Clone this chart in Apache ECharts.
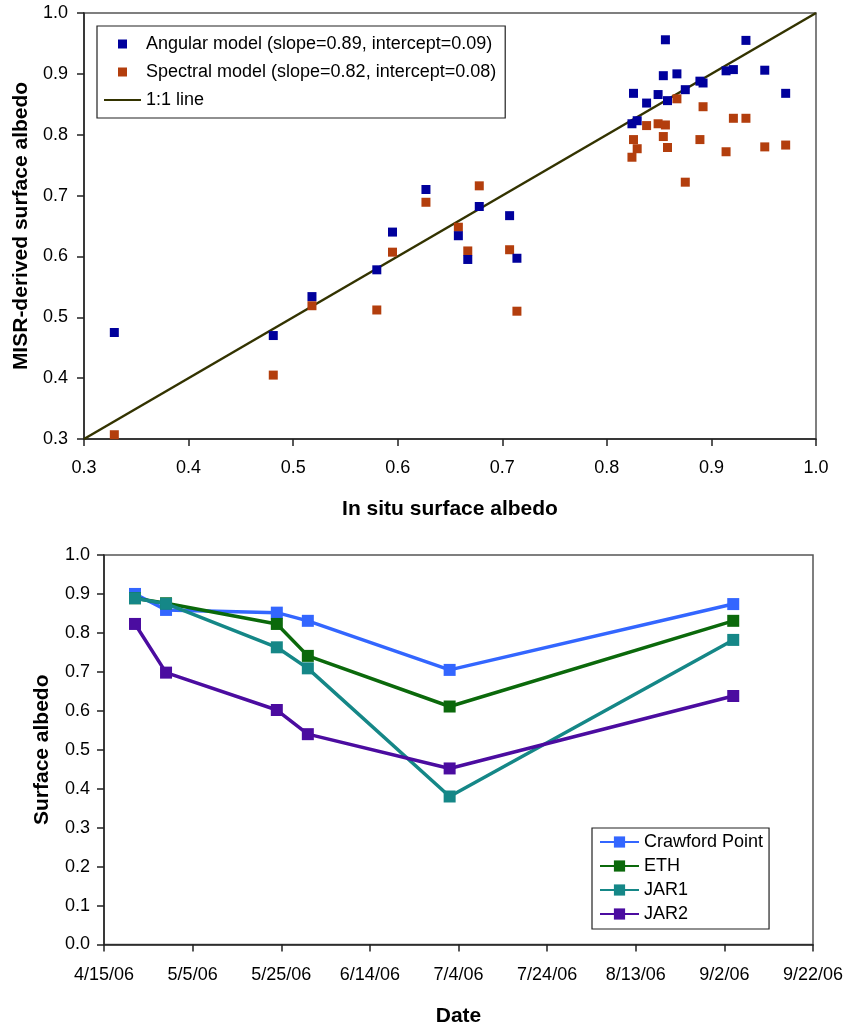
<!DOCTYPE html>
<html>
<head>
<meta charset="utf-8">
<script src="https://cdn.jsdelivr.net/npm/echarts@6/dist/echarts.min.js"></script>
<style>
  html, body { margin: 0; padding: 0; background: #fff; }
  #chart { width: 851px; height: 1032px; }
</style>
</head>
<body>
<div id="chart"></div>
<script>
// ---- Upper panel: MISR-derived vs in situ surface albedo ----
const inSitu = [0.329, 0.481, 0.518, 0.580, 0.595, 0.627, 0.658, 0.667, 0.678, 0.707, 0.714,
  0.824, 0.8255, 0.829, 0.838, 0.849, 0.854, 0.856, 0.858, 0.867, 0.875, 0.889, 0.892,
  0.914, 0.921, 0.933, 0.951, 0.971];
const angular = [0.475, 0.470, 0.534, 0.578, 0.640, 0.710, 0.634, 0.595, 0.682, 0.667, 0.597,
  0.818, 0.868, 0.823, 0.852, 0.866, 0.897, 0.956, 0.856, 0.900, 0.874, 0.888, 0.885,
  0.905, 0.907, 0.955, 0.906, 0.868];
const spectral = [0.307, 0.405, 0.519, 0.512, 0.607, 0.689, 0.648, 0.609, 0.716, 0.611, 0.510,
  0.763, 0.792, 0.777, 0.815, 0.818, 0.797, 0.816, 0.779, 0.859, 0.722, 0.792, 0.846,
  0.772, 0.827, 0.827, 0.780, 0.783];
const oneToOne = [[0.3, 0.3], [1.0, 1.0]];
const upperNames = [
  'Angular model (slope=0.89, intercept=0.09)',
  'Spectral model (slope=0.82, intercept=0.08)',
  '1:1 line'
];

// ---- Lower panel: surface albedo through the 2006 melt season ----
const dates = ['2006-04-22', '2006-04-29', '2006-05-24', '2006-05-31', '2006-07-02', '2006-09-04'];
const stations = ['Crawford Point', 'ETH', 'JAR1', 'JAR2'];
const crawfordPoint = [0.900, 0.859, 0.852, 0.831, 0.705, 0.874];
const eth = [0.889, 0.876, 0.823, 0.741, 0.611, 0.831];
const jar1 = [0.889, 0.875, 0.763, 0.709, 0.380, 0.782];
const jar2 = [0.823, 0.698, 0.602, 0.540, 0.452, 0.638];
const dateStart = '2006-04-15';
const dateTickLabels = ['4/15/06', '5/5/06', '5/25/06', '6/14/06', '7/4/06', '7/24/06', '8/13/06', '9/2/06', '9/22/06'];

const FONT = '"Liberation Sans", Arial, Helvetica, sans-serif';
const DAY = 86400000;
const dayOffset = d => Math.round((Date.parse(d) - Date.parse(dateStart)) / DAY);
const zip = (xs, ys) => xs.map((x, i) => [x, ys[i]]);

const stationValues = [crawfordPoint, eth, jar1, jar2];
const stationColors = ['#3366FF', '#0B690B', '#158787', '#4B0CA0'];
const dayX = dates.map(dayOffset);

const tick1 = v => (Math.round(v * 10) / 10).toFixed(1);

const axisText = { color: '#000', fontFamily: FONT, fontSize: 18 };
const nameText = { color: '#000', fontFamily: FONT, fontSize: 21, fontWeight: 'bold' };
const axisLine = { show: true, lineStyle: { color: '#222', width: 1.5 } };
const axisTick = { show: true, inside: false, length: 7, lineStyle: { color: '#222', width: 1.5 } };

const squareIcon = 'path://M0,0H10V10H0Z';
const barIcon = 'path://M0,0H40V2H0Z';

const option = {
  animation: false,
  backgroundColor: '#fff',
  textStyle: { fontFamily: FONT },
  grid: [
    { left: 84, top: 13, width: 732, height: 426, show: true, borderColor: '#555', borderWidth: 1.5, backgroundColor: 'transparent' },
    { left: 104, top: 555, width: 709, height: 389.5, show: true, borderColor: '#555', borderWidth: 1.5, backgroundColor: 'transparent' }
  ],
  legend: [
    {
      gridIndex: 0,
      orient: 'vertical',
      left: 97, top: 26,
      data: [
        { name: upperNames[0], icon: squareIcon },
        { name: upperNames[1], icon: squareIcon },
        { name: upperNames[2], icon: barIcon }
      ],
      symbolKeepAspect: true,
      itemWidth: 37, itemHeight: 9,
      itemGap: 8,
      padding: [8, 9, 8, 7],
      backgroundColor: '#fff',
      borderColor: '#222', borderWidth: 1.2, borderRadius: 0,
      textStyle: { color: '#000', fontFamily: FONT, fontSize: 18, lineHeight: 20 },
      selectedMode: false
    },
    {
      orient: 'vertical',
      left: 592, top: 828,
      data: stations,
      itemWidth: 39, itemHeight: 14,
      itemGap: 4,
      padding: [4, 6, 5, 7],
      backgroundColor: '#fff',
      borderColor: '#222', borderWidth: 1.2, borderRadius: 0,
      textStyle: { color: '#000', fontFamily: FONT, fontSize: 18, lineHeight: 20 },
      selectedMode: false
    }
  ],
  xAxis: [
    {
      gridIndex: 0, type: 'value', min: 0.3, max: 1.0, interval: 0.1,
      name: 'In situ surface albedo', nameLocation: 'middle', nameGap: 60, nameTextStyle: nameText,
      axisLine: axisLine, axisTick: axisTick, splitLine: { show: false },
      axisLabel: Object.assign({ margin: 20, formatter: tick1 }, axisText)
    },
    {
      gridIndex: 1, type: 'value', min: 0, max: 160, interval: 20,
      name: 'Date', nameLocation: 'middle', nameGap: 61, nameTextStyle: nameText,
      axisLine: axisLine, axisTick: axisTick, splitLine: { show: false },
      axisLabel: Object.assign({ margin: 22, formatter: v => dateTickLabels[Math.round(v / 20)] }, axisText)
    }
  ],
  yAxis: [
    {
      gridIndex: 0, type: 'value', min: 0.3, max: 1.0, interval: 0.1,
      name: 'MISR-derived surface albedo', nameLocation: 'middle', nameGap: 51, nameTextStyle: nameText,
      axisLine: axisLine, axisTick: axisTick, splitLine: { show: false },
      axisLabel: Object.assign({ margin: 16, formatter: tick1 }, axisText)
    },
    {
      gridIndex: 1, type: 'value', min: 0, max: 1.0, interval: 0.1,
      name: 'Surface albedo', nameLocation: 'middle', nameGap: 51, nameTextStyle: nameText,
      axisLine: axisLine, axisTick: axisTick, splitLine: { show: false },
      axisLabel: Object.assign({ margin: 14, formatter: tick1 }, axisText)
    }
  ],
  series: [
    {
      name: upperNames[2], type: 'line', xAxisIndex: 0, yAxisIndex: 0,
      data: oneToOne, symbol: 'none', color: '#333300',
      lineStyle: { color: '#333300', width: 2.5 }, z: 1
    },
    {
      name: upperNames[1], type: 'scatter', xAxisIndex: 0, yAxisIndex: 0,
      data: zip(inSitu, spectral), symbol: 'rect', symbolSize: 9,
      itemStyle: { color: '#B33E0D', opacity: 1 }, z: 2
    },
    {
      name: upperNames[0], type: 'scatter', xAxisIndex: 0, yAxisIndex: 0,
      data: zip(inSitu, angular), symbol: 'rect', symbolSize: 9,
      itemStyle: { color: '#00009C', opacity: 1 }, z: 3
    }
  ].concat(stations.map((name, i) => ({
    name: name, type: 'line', xAxisIndex: 1, yAxisIndex: 1,
    data: zip(dayX, stationValues[i]),
    symbol: 'rect', symbolSize: 12, showSymbol: true,
    color: stationColors[i],
    lineStyle: { color: stationColors[i], width: 3.5 },
    itemStyle: { color: stationColors[i] },
    z: 2 + i
  })))
};

const chart = echarts.init(document.getElementById('chart'), null, { renderer: 'canvas' });
chart.setOption(option);
</script>
</body>
</html>
